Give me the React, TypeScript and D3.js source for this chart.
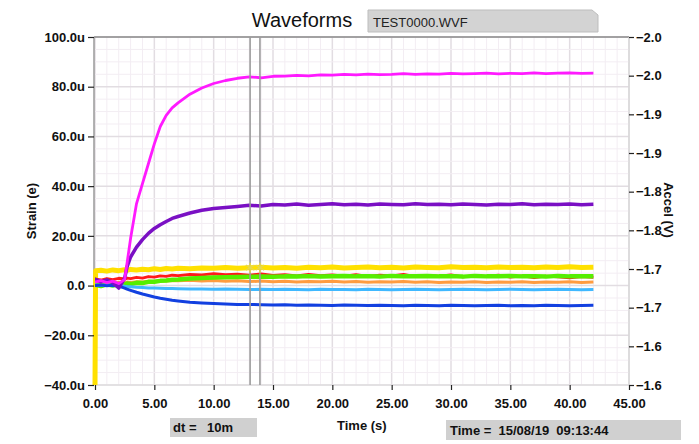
import * as d3 from "d3";
import { useRef, useEffect } from "react";

// sample times (s)
const time = [0, 0.05, 0.5, 1, 1.5, 2, 2.5, 2.7, 3, 3.5, 4, 4.5, 5, 5.5, 6, 6.5, 7,
  8, 9, 10, 11, 12, 13, 14, 15, 16, 17, 18, 19, 20, 21, 22, 23, 24, 25, 26, 27, 28,
  29, 30, 31, 32, 33, 34, 35, 36, 37, 38, 39, 40, 41, 42];

// strain values (u)
const yellow = [-40, 6.0, 6.2, 5.8, 6.3, 6.0, 6.4, 6.1, 6.5, 6.3, 6.6, 6.4, 6.8, 6.5, 6.9, 6.7, 7.0,
  6.8, 7.1, 7.0, 7.3, 7.0, 7.2, 7.4, 7.1, 7.3, 7.0, 7.4, 7.2, 7.5, 7.1, 7.3, 7.5, 7.2, 7.4, 7.1, 7.5, 7.3,
  7.2, 7.6, 7.3, 7.4, 7.2, 7.5, 7.3, 7.4, 7.2, 7.5, 7.3, 7.6, 7.3, 7.4];
const orange = [1.0, 1.0, 0.8, 1.2, 0.9, 1.3, 1.1, 1.4, 1.2, 1.5, 1.4, 1.7, 1.6, 1.9, 1.8, 2.0, 1.9,
  2.1, 1.8, 2.0, 1.7, 1.9, 1.6, 1.8, 1.5, 1.7, 1.4, 1.6, 1.5, 1.7, 1.4, 1.6, 1.3, 1.5, 1.4, 1.6, 1.3, 1.5,
  1.2, 1.4, 1.3, 1.5, 1.2, 1.4, 1.3, 1.5, 1.2, 1.4, 1.3, 1.5, 1.2, 1.4];
const red = [2.5, 2.5, 2.2, 2.8, 2.4, 2.9, 2.6, 3.0, 2.8, 3.3, 3.0, 3.6, 3.4, 3.9, 3.7, 4.2, 4.0,
  4.5, 4.3, 4.8, 4.4, 4.6, 4.2, 4.7, 4.1, 4.4, 3.9, 4.5, 4.0, 4.3, 3.8, 4.4, 3.7, 4.2, 3.9, 4.5, 3.6, 4.1,
  3.8, 4.3, 3.5, 4.0, 3.7, 4.2, 3.4, 3.9, 3.2, 3.8, 3.5, 3.1, 3.6, 3.3];
const green = [0.3, 0.3, -0.2, 0.5, 0.0, 0.6, 0.3, 0.8, 0.6, 1.1, 1.0, 1.5, 1.5, 1.9, 2.0, 2.3, 2.4,
  2.8, 3.0, 3.2, 3.3, 3.4, 3.5, 3.6, 3.5, 3.7, 3.6, 3.8, 3.6, 3.7, 3.9, 3.7, 3.8, 3.6, 3.9, 3.7, 3.8, 3.9,
  3.7, 3.8, 3.6, 3.9, 3.7, 3.8, 3.9, 3.7, 3.8, 3.6, 3.9, 3.7, 3.8, 3.8];
const lightBlue = [0.2, 0.2, 0.0, 0.3, -0.1, 0.1, -0.3, -0.4, -0.5, -0.7, -0.8, -1.0, -1.0, -1.1, -1.2, -1.2, -1.3,
  -1.4, -1.4, -1.5, -1.4, -1.5, -1.6, -1.5, -1.6, -1.5, -1.6, -1.7, -1.5, -1.6, -1.6, -1.7, -1.5, -1.6, -1.7, -1.6, -1.5, -1.6,
  -1.7, -1.6, -1.5, -1.6, -1.7, -1.6, -1.5, -1.6, -1.7, -1.6, -1.5, -1.6, -1.7, -1.6];
const blue = [0.0, 0.0, 0.2, -0.1, 0.1, -0.2, -1.0, -1.4, -1.9, -2.7, -3.4, -4.0, -4.6, -5.1, -5.5, -5.9, -6.2,
  -6.7, -7.0, -7.2, -7.4, -7.6, -7.6, -7.7, -7.8, -7.7, -7.9, -7.8, -7.9, -8.0, -7.8, -7.9, -8.0, -7.9, -8.0, -8.1, -7.9, -8.0,
  -8.1, -7.9, -8.0, -8.1, -8.0, -7.9, -8.1, -8.0, -8.1, -7.9, -8.0, -8.1, -8.0, -7.9];
const purple = [2.5, 2.5, 1.5, 2.3, 1.2, -1.0, 3.0, 7.5, 11.5, 15.5, 18.5, 21.0, 23.0, 24.5, 25.8, 27.0, 27.8,
  29.2, 30.3, 31.0, 31.4, 31.8, 32.3, 32.0, 32.6, 32.4, 32.8, 32.3, 32.6, 32.9, 32.5, 32.7, 32.4, 32.8, 32.6, 32.5, 32.9, 32.6,
  32.7, 32.5, 32.8, 32.6, 32.4, 32.7, 32.6, 32.9, 32.5, 32.7, 32.6, 32.8, 32.5, 32.7];
const magenta = [1.5, 1.5, 2.0, 1.2, 1.8, 0.8, 2.5, 9.0, 19.0, 33.0, 41.0, 49.0, 57.0, 64.0, 68.5, 71.5, 73.5,
  77.0, 79.5, 81.3, 82.5, 83.4, 84.0, 83.6, 84.2, 84.3, 84.6, 84.4, 84.8, 84.7, 85.0, 84.8, 85.1, 84.9, 85.0, 85.3, 85.0, 85.2,
  85.1, 85.4, 85.2, 85.3, 85.5, 85.2, 85.4, 85.3, 85.6, 85.3, 85.5, 85.6, 85.4, 85.5];

const traces = [
  { values: yellow, color: "#ffe000", width: 5 },
  { values: orange, color: "#ff9c40", width: 3 },
  { values: red, color: "#ff1a1a", width: 3 },
  { values: green, color: "#55ee00", width: 4.5 },
  { values: lightBlue, color: "#40b8ff", width: 3 },
  { values: blue, color: "#1240e0", width: 3 },
  { values: purple, color: "#7a10c4", width: 3.5 },
  { values: magenta, color: "#ff1aff", width: 2.8 },
];

const cursors = [13.07, 13.9];
const cursorLevel = 7.2;

const strainTicks = [-40, -20, 0, 20, 40, 60, 80, 100];
const timeTicks = [0, 5, 10, 15, 20, 25, 30, 35, 40, 45];
const accelTicks = d3.range(10).map((i) => -1.6 - (i * 0.4) / 9);

const font = "'Liberation Sans', Arial, sans-serif";

export default function App() {
  const width = 699;
  const height = 444;
  const left = 95, right = 629, top = 37, bottom = 385;

  const x = d3.scaleLinear([0, 45], [left, right]);
  const y = d3.scaleLinear([-40, 100], [bottom, top]);
  const yR = d3.scaleLinear([-1.6, -2.0], [bottom, top]);

  const gx = useRef(null);
  const gy = useRef(null);
  const gr = useRef(null);

  const line = d3.line<number>((d, i) => x(time[i]), (d) => y(d));

  useEffect(() => {
    const style = (g) => {
      g.select(".domain").remove();
      g.selectAll("line").attr("stroke", "#222").attr("stroke-width", 1.2);
      g.selectAll("text")
        .attr("font-family", font)
        .attr("font-weight", "bold")
        .attr("font-size", 13)
        .attr("fill", "#111");
    };
    d3.select(gx.current)
      .call(d3.axisBottom(x).tickValues(timeTicks).tickSize(5).tickPadding(9).tickFormat(d3.format(".2f")))
      .call(style);
    d3.select(gy.current)
      .call(
        d3.axisLeft(y).tickValues(strainTicks).tickSize(6).tickPadding(3)
          .tickFormat((d) => (d === 0 ? "0.0" : d3.format(".1f")(d) + "u"))
      )
      .call(style);
    d3.select(gr.current)
      .call(d3.axisRight(yR).tickValues(accelTicks).tickSize(5).tickPadding(2).tickFormat(d3.format(".1f")))
      .call(style);
  }, [x, y, yR]);

  const minorX = d3.range(0, 46, 1);
  const minorY = d3.range(-40, 101, 5);
  const star = d3.symbol(d3.symbolAsterisk, 70)();

  return (
    <svg width={width} height={height} style={{ position: "absolute", left: 0, top: 0, background: "#fff" }}>
      {/* grid */}
      <g>
        {minorX.map((t) => (
          <line key={"vx" + t} x1={x(t)} x2={x(t)} y1={top} y2={bottom}
            stroke={t % 5 === 0 ? "#e2dde2" : "#f3edf3"} strokeWidth={t % 5 === 0 ? 1.5 : 1} />
        ))}
        {minorY.map((v) => (
          <line key={"hy" + v} x1={left} x2={right} y1={y(v)} y2={y(v)}
            stroke={v % 20 === 0 ? "#e2dde2" : "#f3edf3"} strokeWidth={v % 20 === 0 ? 1.5 : 1} />
        ))}
      </g>

      {/* frame */}
      <line x1={left - 1} x2={right} y1={top} y2={top} stroke="#8a8a8a" strokeWidth={1.5} />
      <line x1={left - 1} x2={left - 1} y1={top} y2={bottom} stroke="#9a9a9a" strokeWidth={1.5} />
      <line x1={right} x2={right} y1={top} y2={bottom} stroke="#d6d6d6" strokeWidth={1.2} />
      <line x1={left - 1} x2={right} y1={bottom} y2={bottom} stroke="#dedede" strokeWidth={1.2} />

      {/* traces */}
      {traces.map((s, i) => (
        <path key={i} d={line(s.values)} fill="none" stroke={s.color} strokeWidth={s.width}
          strokeLinejoin="round" />
      ))}

      {/* cursors */}
      {cursors.map((c) => (
        <g key={c}>
          <line x1={x(c)} x2={x(c)} y1={top} y2={bottom} stroke="#9c9c9c" strokeWidth={1.6} />
          <path d={star} transform={`translate(${x(c)},${y(cursorLevel)})`} fill="none"
            stroke="#e8d84a" strokeWidth={1.5} />
        </g>
      ))}

      <g ref={gx} transform={`translate(0,${bottom})`} />
      <g ref={gy} transform={`translate(${left - 1},0)`} />
      <g ref={gr} transform={`translate(${right},0)`} />

      {/* header */}
      <text x={302} y={27} textAnchor="middle" fontFamily={font} fontSize={20} fill="#111">Waveforms</text>
      <path d="M368,10 H592 L598,15 V32 H368 Z" fill="#d3d3d3" stroke="#bdbdbd" />
      <text x={373} y={27} fontFamily={font} fontSize={13} fill="#222">TEST0000.WVF</text>

      {/* axis titles */}
      <text transform="translate(36,211) rotate(-90)" textAnchor="middle" fontFamily={font}
        fontWeight="bold" fontSize={13} fill="#111">Strain (e)</text>
      <text transform="translate(664,210) rotate(90)" textAnchor="middle" fontFamily={font}
        fontWeight="bold" fontSize={13} fill="#111">Accel (V)</text>
      <text x={337} y={430} fontFamily={font} fontWeight="bold" fontSize={13} fill="#111">Time (s)</text>

      {/* footer boxes */}
      <rect x={170} y={418} width={87} height={19} fill="#d0d0d0" />
      <text x={173} y={432} fontFamily={font} fontWeight="bold" fontSize={13} fill="#111">dt =</text>
      <text x={207} y={432} fontFamily={font} fontWeight="bold" fontSize={13} fill="#111">10m</text>
      <rect x={446} y={420} width={235} height={20} fill="#d0d0d0" />
      <text x={450} y={435} fontFamily={font} fontWeight="bold" fontSize={13} fill="#111"
        style={{ whiteSpace: "pre" }}>{"Time =  15/08/19  09:13:44"}</text>
    </svg>
  );
}
